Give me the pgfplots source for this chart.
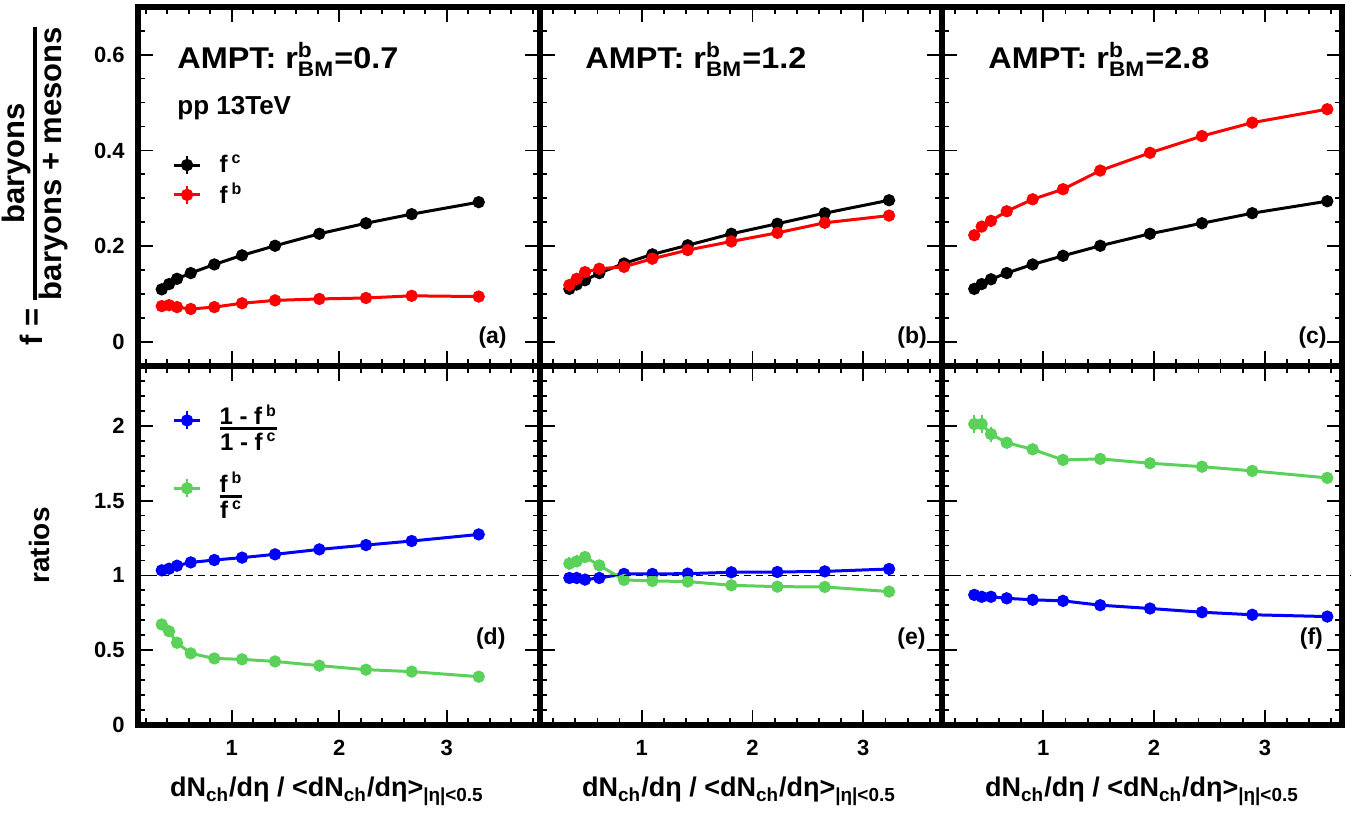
\documentclass[border=0pt]{standalone}
\usepackage{fontspec}
\setmainfont{Liberation Sans}
\usepackage{amsmath}
\usepackage{pgfplots}
\pgfplotsset{compat=1.18}
\definecolor{rgreen}{RGB}{90,210,90}
\newcommand{\bfrac}[2]{$\vcenter{\halign{\hfil##\hfil\cr #1\cr\noalign{\kern1.2pt\hrule height 1.6pt\kern1.2pt}#2\cr}}$}
\tikzset{
  xlab/.style={font=\fontsize{13.5}{16}\selectfont\bfseries, anchor=base},
  amptlab/.style={font=\fontsize{15}{17}\selectfont\bfseries, anchor=base west, inner sep=0pt},
  plab/.style={font=\fontsize{11.5}{13}\selectfont\bfseries, anchor=base east, inner sep=0pt},
}
\pgfplotsset{
  panel/.style={
    scale only axis, clip mode=individual,
    axis line style={line width=3pt, line cap=rect},
    tick align=inside, tick pos=both,
    major tick length=7.5pt, minor tick length=3.4pt,
    every tick/.style={black, line width=0.9pt},
    /pgf/number format/assume math mode=true,
    tick label style={font=\fontsize{11}{13}\selectfont\bfseries},
    yticklabel style={inner sep=0pt, xshift=-6.5pt},
    xticklabel style={inner sep=0pt, yshift=-7.5pt},
    xtick={1,2,3}, xticklabels={1,2,3},
    minor xtick={0.2,0.4,0.6,0.8,1.2,1.4,1.6,1.8,2.2,2.4,2.6,2.8,3.2,3.4,3.6,3.8},
    every axis plot/.append style={line width=1.5pt, mark=*, mark size=2.3pt, mark options={solid}},
    legend image code/.code={
      \draw[##1, line width=1.5pt] (0pt,0pt) -- (13pt,0pt);
      \draw[##1, line width=1pt] (6.5pt,-4.5pt) -- (6.5pt,4.5pt);
      \fill[##1] (6.5pt,0pt) circle (2.3pt);
    },
  },
  toppanel/.style={panel, height=179.65pt, ymin=-0.05, ymax=0.7,
    ytick={0,0.2,0.4,0.6}, yticklabels={},
    minor ytick={0.05,0.1,0.15,0.25,0.3,0.35,0.45,0.5,0.55,0.65},
    xticklabels={}},
  botpanel/.style={panel, height=179.5pt, ymin=0, ymax=2.4,
    ytick={0,0.5,1,1.5,2}, yticklabels={},
    minor ytick={0.1,0.2,0.3,0.4,0.6,0.7,0.8,0.9,1.1,1.2,1.3,1.4,1.6,1.7,1.8,1.9,2.1,2.2,2.3}},
  errs/.style={error bars/.cd, y dir=both, y explicit, error mark=none, error bar style={line width=1pt}},
}
\newcommand{\xlabtext}{dN$_{\text{ch}}$/dη / <dN$_{\text{ch}}$/dη>$_{\text{|η|<0.5}}$}
\newcommand{\ampt}[1]{\scalebox{1.08}[1]{AMPT: $\text{r}^{\text{b}}_{\text{BM}}$=#1}}
\begin{document}
\begin{tikzpicture}
\path[use as bounding box] (0pt,-407.5pt) rectangle (684.5pt,0pt);
% ---------------- (a)
\begin{axis}[toppanel, at={(69pt,-3.35pt)}, anchor=north west, width=201pt,
  xmin=0.128, xmax=3.868, yticklabels={0,0.2,0.4,0.6},
  legend style={at={(axis description cs:0.085,0.6)}, anchor=north west, draw=none, fill=none, inner sep=0pt,
    font=\fontsize{12}{14}\selectfont\bfseries, row sep=0pt, legend cell align=left,
    /tikz/every odd column/.append style={column sep=7pt}}]
\addlegendimage{black}\addlegendentry{f\,\textsuperscript{c}}
\addlegendimage{red}\addlegendentry{f\,\textsuperscript{b}}
\addplot[black, forget plot] coordinates {(0.349,0.110) (0.417,0.121) (0.491,0.132) (0.619,0.144) (0.838,0.162) (1.096,0.181) (1.403,0.201) (1.815,0.226) (2.249,0.248) (2.674,0.267) (3.298,0.292)};
\addplot[red, forget plot] coordinates {(0.349,0.075) (0.417,0.077) (0.491,0.073) (0.619,0.069) (0.838,0.073) (1.096,0.081) (1.403,0.087) (1.815,0.090) (2.249,0.092) (2.674,0.0965) (3.298,0.095)};
\node[amptlab] at (axis description cs:0.097,0.829) {\ampt{0.7}};
\node[font=\fontsize{13}{15}\selectfont\bfseries, anchor=base west, inner sep=0pt] at (axis description cs:0.097,0.699) {pp 13TeV};
\node[plab] at (axis description cs:0.918,0.064) {(a)};
\node[font=\fontsize{15.5}{17}\selectfont\bfseries, rotate=90, anchor=center] at (axis description cs:-0.256,0.5) {f = \bfrac{baryons}{baryons + mesons}};
\end{axis}
% ---------------- (b)
\begin{axis}[toppanel, at={(270pt,-3.35pt)}, anchor=north west, width=201pt,
  xmin=0.082, xmax=3.710]
\addplot[black] coordinates {(0.347,0.111) (0.413,0.120) (0.488,0.129) (0.617,0.144) (0.840,0.164) (1.096,0.183) (1.415,0.202) (1.809,0.226) (2.224,0.247) (2.652,0.269) (3.232,0.296)};
\addplot[red] coordinates {(0.347,0.119) (0.413,0.132) (0.488,0.146) (0.617,0.153) (0.840,0.157) (1.096,0.174) (1.415,0.192) (1.809,0.210) (2.224,0.228) (2.652,0.249) (3.232,0.264)};
\node[amptlab] at (axis description cs:0.112,0.829) {\ampt{1.2}};
\node[plab] at (axis description cs:0.963,0.064) {(b)};
\end{axis}
% ---------------- (c)
\begin{axis}[toppanel, at={(471pt,-3.35pt)}, anchor=north west, width=200pt,
  xmin=0.086, xmax=3.696]
\addplot[black] coordinates {(0.377,0.111) (0.444,0.121) (0.528,0.131) (0.670,0.144) (0.904,0.162) (1.178,0.180) (1.514,0.201) (1.963,0.226) (2.432,0.248) (2.886,0.269) (3.563,0.294)};
\addplot[red] coordinates {(0.377,0.223) (0.444,0.241) (0.528,0.253) (0.670,0.273) (0.904,0.298) (1.178,0.319) (1.514,0.358) (1.963,0.395) (2.432,0.430) (2.886,0.458) (3.563,0.486)};
\node[amptlab] at (axis description cs:0.115,0.829) {\ampt{2.8}};
\node[plab] at (axis description cs:0.9625,0.064) {(c)};
\end{axis}
% ---------------- (d)
\begin{axis}[botpanel, at={(69pt,-183pt)}, anchor=north west, width=201pt,
  xmin=0.128, xmax=3.868, yticklabels={0,0.5,1,1.5,2},
  legend style={at={(axis description cs:0.085,0.905)}, anchor=north west, draw=none, fill=none, inner sep=0pt,
    font=\fontsize{12}{14}\selectfont\bfseries, row sep=14pt, legend cell align=left,
    /tikz/every odd column/.append style={column sep=7pt}}]
\addlegendimage{blue}\addlegendentry{\bfrac{1 - f\,\textsuperscript{b}}{1 - f\,\textsuperscript{c}}}
\addlegendimage{rgreen}\addlegendentry{\bfrac{f\,\textsuperscript{b}}{f\,\textsuperscript{c}}}
\addplot[blue, forget plot, errs] table[x=x, y=y, y error=e] {
x y e
0.349 1.034 0.005
0.417 1.045 0.005
0.491 1.065 0.004
0.619 1.087 0.003
0.838 1.103 0.003
1.096 1.119 0.003
1.403 1.141 0.003
1.815 1.174 0.003
2.249 1.203 0.003
2.674 1.230 0.003
3.298 1.274 0.003
};
\addplot[rgreen, forget plot, errs] table[x=x, y=y, y error=e] {
x y e
0.349 0.672 0.035
0.417 0.627 0.030
0.491 0.550 0.022
0.619 0.479 0.015
0.838 0.445 0.010
1.096 0.439 0.008
1.403 0.425 0.006
1.815 0.397 0.005
2.249 0.370 0.005
2.674 0.357 0.005
3.298 0.323 0.004
};
\addplot[black, line width=0.7pt, mark=none, dash pattern=on 3.5pt off 2.5pt, forget plot] coordinates {(0.128,1) (3.868,1)};
\node[plab] at (axis description cs:0.915,0.223) {(d)};
\node[font=\fontsize{14}{16}\selectfont\bfseries, rotate=90, anchor=center] at (axis description cs:-0.244,0.5) {ratios};
\node[xlab] at (axis description cs:0.47,-0.2) {\xlabtext};
\end{axis}
% ---------------- (e)
\begin{axis}[botpanel, at={(270pt,-183pt)}, anchor=north west, width=201pt,
  xmin=0.082, xmax=3.710]
\addplot[blue, errs] table[x=x, y=y, y error=e] {
x y e
0.347 0.983 0.006
0.413 0.983 0.006
0.488 0.972 0.005
0.617 0.983 0.004
0.840 1.010 0.003
1.096 1.010 0.003
1.415 1.012 0.003
1.809 1.021 0.003
2.224 1.023 0.003
2.652 1.027 0.003
3.232 1.043 0.003
};
\addplot[rgreen, errs] table[x=x, y=y, y error=e] {
x y e
0.347 1.079 0.045
0.413 1.094 0.040
0.488 1.123 0.040
0.617 1.067 0.020
0.840 0.970 0.010
1.096 0.963 0.008
1.415 0.959 0.006
1.809 0.934 0.005
2.224 0.925 0.005
2.652 0.923 0.005
3.232 0.892 0.004
};
\addplot[black, line width=0.7pt, mark=none, dash pattern=on 3.5pt off 2.5pt] coordinates {(0.082,1) (3.710,1)};
\node[plab] at (axis description cs:0.960,0.223) {(e)};
\node[xlab] at (axis description cs:0.495,-0.2) {\xlabtext};
\end{axis}
% ---------------- (f)
\begin{axis}[botpanel, at={(471pt,-183pt)}, anchor=north west, width=200pt,
  xmin=0.086, xmax=3.696, clip=false]
\addplot[rgreen, errs] table[x=x, y=y, y error=e] {
x y e
0.377 2.012 0.060
0.444 2.012 0.060
0.528 1.945 0.050
0.670 1.887 0.030
0.904 1.843 0.015
1.178 1.772 0.010
1.514 1.779 0.008
1.963 1.750 0.006
2.432 1.727 0.006
2.886 1.699 0.005
3.563 1.652 0.005
};
\addplot[blue, errs] table[x=x, y=y, y error=e] {
x y e
0.377 0.870 0.006
0.444 0.857 0.005
0.528 0.857 0.005
0.670 0.847 0.004
0.904 0.837 0.003
1.178 0.830 0.003
1.514 0.801 0.003
1.963 0.779 0.003
2.432 0.754 0.003
2.886 0.737 0.003
3.563 0.725 0.003
};
\addplot[black, line width=0.7pt, mark=none, dash pattern=on 3.5pt off 2.5pt] coordinates {(0.086,1) (3.777,1)};
\node[plab] at (axis description cs:0.953,0.223) {(f)};
\node[xlab] at (axis description cs:0.5,-0.2) {\xlabtext};
\end{axis}
\end{tikzpicture}
\end{document}
